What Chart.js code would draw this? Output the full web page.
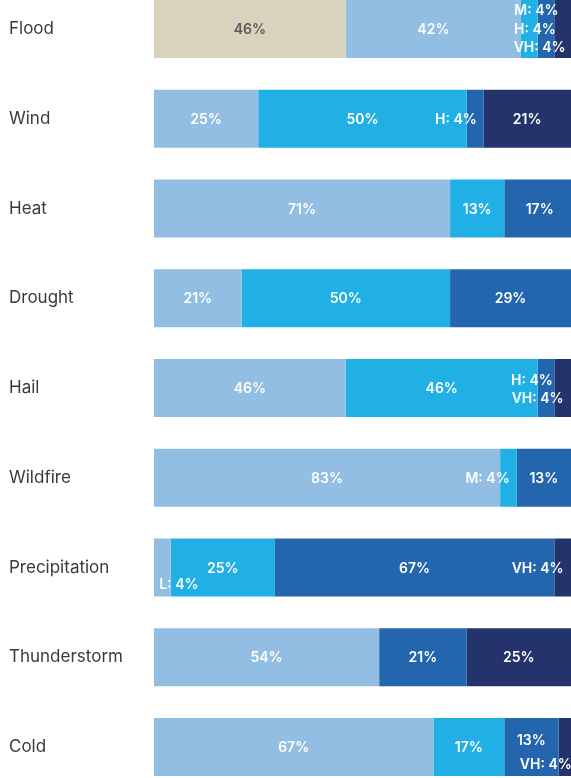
<!DOCTYPE html>
<html lang="en">
<head>
    <meta charset="UTF-8">
    <title>Hazard exposure</title>
    <script src="https://cdn.jsdelivr.net/npm/chart.js"></script>
    <style>
        body {
            margin: 0;
            background: #ffffff;
        }
        #wrap {
            position: relative;
            width: 571px;
            height: 778px;
            overflow: hidden;
        }
        #box {
            position: absolute;
            left: 0;
            top: -26px;
            width: 571px;
            height: 828px;
        }
    </style>
</head>
<body>
    <div id="wrap">
        <div id="box"><canvas id="hazardChart"></canvas></div>
    </div>

    <script>
        // categories and share of sites per risk level (%)
        const hazards = ['Flood', 'Wind', 'Heat', 'Drought', 'Hail', 'Wildfire', 'Precipitation', 'Thunderstorm', 'Cold'];
        const notAssessed = [46, 0, 0, 0, 0, 0, 0, 0, 0];
        const lowRisk = [42, 25, 71, 21, 46, 83, 4, 54, 67];
        const mediumRisk = [4, 50, 13, 50, 46, 4, 25, 0, 17];
        const highRisk = [4, 4, 17, 29, 4, 13, 67, 21, 13];
        const veryHighRisk = [4, 21, 0, 0, 4, 0, 4, 25, 4];
        const levelShort = ['', 'L', 'M', 'H', 'VH'];

        // small labels that sit off-centre in the reference
        const nudges = {
            'Flood|M': { dx: -15, dy: -19, align: 'left' },
            'Flood|H': { dx: -32, dy: 0, align: 'left' },
            'Flood|VH': { dx: -49, dy: 18, align: 'left' },
            'Wind|H': { dx: -40, dy: 0, align: 'left' },
            'Hail|H': { dx: -35, dy: -8, align: 'left' },
            'Hail|VH': { dx: -51, dy: 10, align: 'left' },
            'Wildfire|M': { dx: -43, dy: 0, align: 'left' },
            'Precipitation|L': { dx: -3, dy: 16, align: 'left' },
            'Precipitation|VH': { dx: -51, dy: 0, align: 'left' },
            'Cold|H': { dx: 0, dy: -7, align: 'center' },
            'Cold|VH': { dx: -47, dy: 17, align: 'left' }
        };

        const segmentLabels = {
            id: 'segmentLabels',
            afterDatasetsDraw(chart) {
                const ctx = chart.ctx;
                ctx.save();
                ctx.font = '600 14px Inter, "DejaVu Sans", sans-serif';
                ctx.textBaseline = 'middle';
                chart.data.datasets.forEach((ds, i) => {
                    const meta = chart.getDatasetMeta(i);
                    meta.data.forEach((bar, j) => {
                        const v = ds.data[j];
                        if (!v) return;
                        const short = levelShort[i];
                        const text = v < 5 ? short + ': ' + v + '%' : v + '%';
                        const n = nudges[hazards[j] + '|' + short] || { dx: 0, dy: 0, align: 'center' };
                        ctx.fillStyle = i === 0 ? '#5b5b5b' : '#ffffff';
                        ctx.textAlign = n.align;
                        ctx.fillText(text, (bar.x + bar.base) / 2 + n.dx, bar.y + n.dy + 1);
                    });
                });
                ctx.restore();
            }
        };

        const common = { borderWidth: 0, barPercentage: 0.646, categoryPercentage: 1 };

        new Chart(document.getElementById('hazardChart'), {
            type: 'bar',
            data: {
                labels: hazards,
                datasets: [
                    { label: 'N/A', data: notAssessed, backgroundColor: '#d9d2bd', ...common },
                    { label: 'Low', data: lowRisk, backgroundColor: '#92bee3', ...common },
                    { label: 'Medium', data: mediumRisk, backgroundColor: '#20b0e5', ...common },
                    { label: 'High', data: highRisk, backgroundColor: '#2366ad', ...common },
                    { label: 'Very high', data: veryHighRisk, backgroundColor: '#24336b', ...common }
                ]
            },
            options: {
                indexAxis: 'y',
                responsive: true,
                maintainAspectRatio: false,
                animation: false,
                layout: { padding: { left: 9, right: 0, top: 0, bottom: 0 } },
                plugins: {
                    legend: { display: false },
                    tooltip: { enabled: false }
                },
                scales: {
                    x: {
                        stacked: true,
                        min: 0,
                        max: 100,
                        display: false
                    },
                    y: {
                        stacked: true,
                        grid: { display: false },
                        border: { display: false },
                        ticks: {
                            crossAlign: 'far',
                            color: '#3a3a3a',
                            padding: 0,
                            font: { family: 'Inter, "DejaVu Sans", sans-serif', size: 17 }
                        },
                        afterFit(scale) {
                            scale.width = 145;
                        }
                    }
                }
            },
            plugins: [segmentLabels]
        });
    </script>
</body>
</html>
